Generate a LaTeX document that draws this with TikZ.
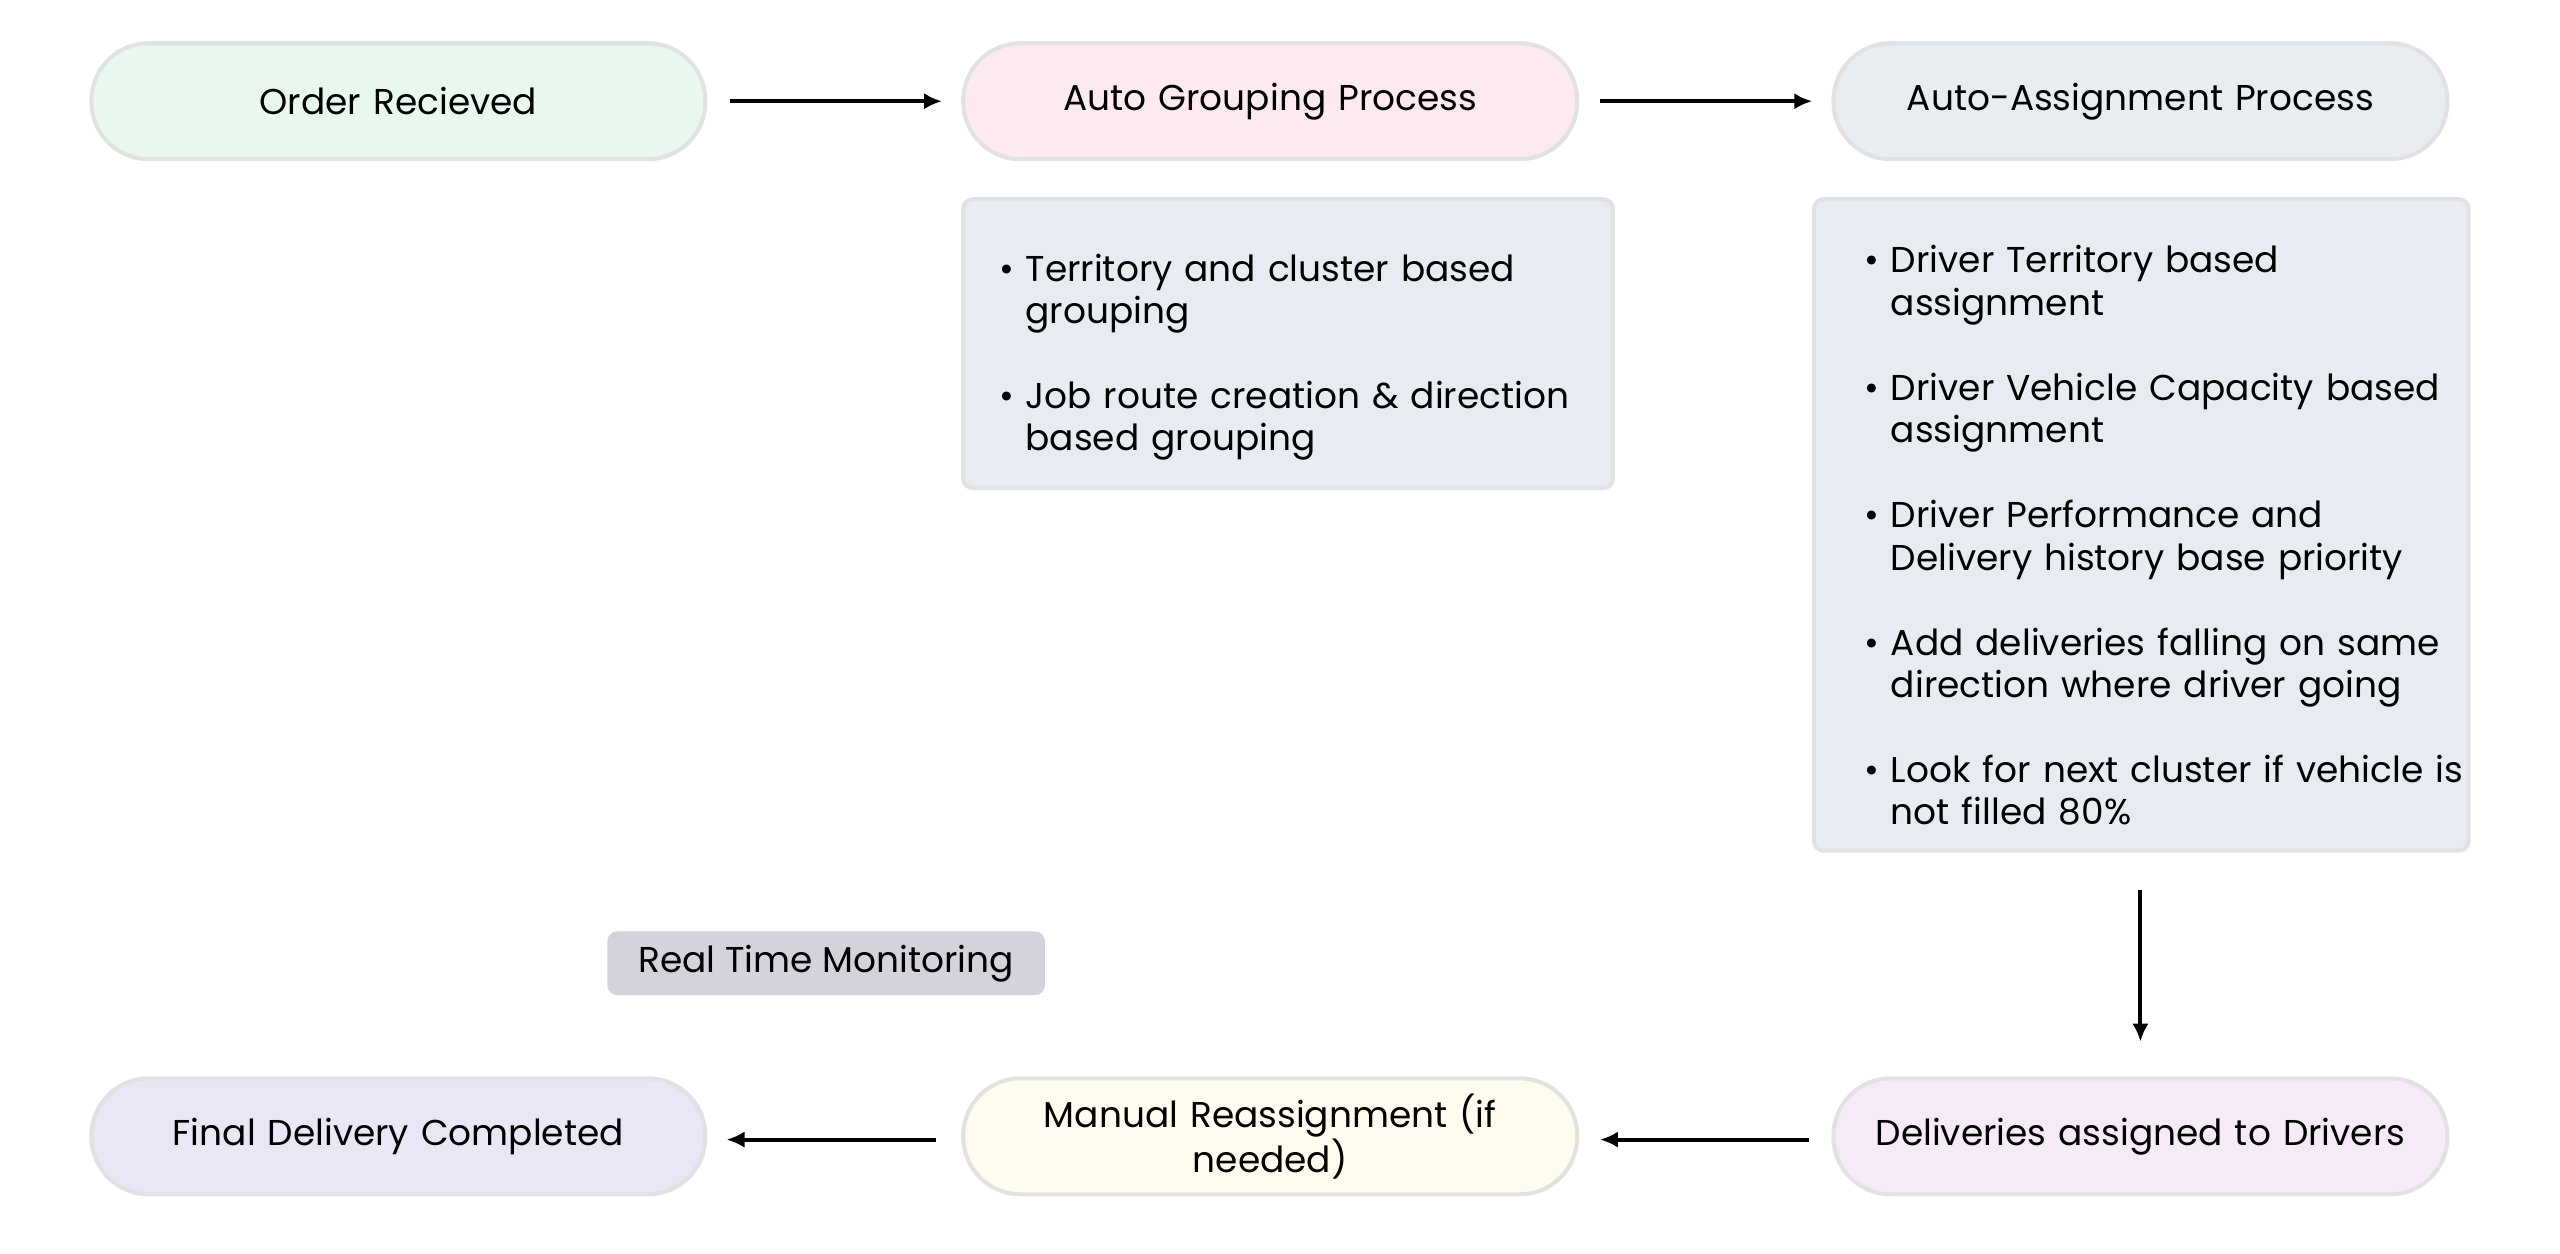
\documentclass[tikz,border=0pt]{standalone}
\usepackage{fontspec}
\setmainfont{Poppins}
\usetikzlibrary{arrows.meta}
\definecolor{bd}{HTML}{E2E2E2}
\definecolor{cA}{HTML}{E8F8EF}
\definecolor{cB}{HTML}{FCEAF0}
\definecolor{cC}{HTML}{E8EDF2}
\definecolor{cL}{HTML}{E6ECF2}
\definecolor{cM}{HTML}{D3D3DB}
\definecolor{cF}{HTML}{E9E6F6}
\definecolor{cR}{HTML}{FFFBEE}
\definecolor{cD}{HTML}{F6E9F8}
\newcommand{\blist}[1]{\begin{list}{\textbullet}{\leftmargin=17pt\labelwidth=10pt\labelsep=7pt\itemsep=26pt\parsep=0pt\topsep=0pt\partopsep=0pt}#1\end{list}}
\begin{document}
\begin{tikzpicture}[x=1pt,y=-1pt,
  pill/.style={draw=bd,line width=2.5pt,rounded corners=35pt,minimum width=376pt,minimum height=71pt,align=center,font=\fontsize{22}{26}\selectfont,text width=330pt},
  lbox/.style={draw=bd,line width=2.5pt,rounded corners=6pt,fill=cL},
  lst/.style={anchor=north west,inner sep=0pt,font=\fontsize{22}{26}\selectfont,text width=380pt},
  arr/.style={-{Latex[length=11pt,width=10pt]},line width=2.5pt}]
\useasboundingbox (0,0) rectangle (1568,768);
\node[pill,fill=cA] (o) at (244,62) {Order Recieved};
\node[pill,fill=cB] (g) at (778,62) {Auto Grouping Process};
\node[pill,fill=cC] (a) at (1311,62) {Auto-Assignment Process};
\node[pill,fill=cF] (f) at (244,696) {Final Delivery Completed};
\node[pill,fill=cR] (m) at (778,696) {Manual Reassignment (if\\needed)};
\node[pill,fill=cD] (d) at (1311,696) {Deliveries assigned to Drivers};
\draw[lbox] (590,122) rectangle (988,299);
\draw[lbox] (1111,122) rectangle (1512,521);
\node[lst] (gl) at (611,146) {\blist{\item Territory and cluster based\\grouping \item Job route creation \& direction\\based grouping}};
\node[lst] (al) at (1141,141) {\blist{\item Driver Territory based\\assignment \item Driver Vehicle Capacity based\\assignment \item Driver Performance and\\Delivery history base priority \item Add deliveries falling on same\\direction where driver going \item Look for next cluster if vehicle is\\not filled 80\%}};
\node[fill=cM,rounded corners=6pt,minimum width=268pt,minimum height=39pt,font=\fontsize{22}{26}\selectfont] (rt) at (506,590) {Real Time Monitoring};
\coordinate (a1) at (447,62); \coordinate (a2) at (577,62);
\coordinate (b1) at (980,62); \coordinate (b2) at (1110,62);
\coordinate (c1) at (1311,545); \coordinate (c2) at (1311,638);
\coordinate (d1) at (1108,698); \coordinate (d2) at (980,698);
\coordinate (e1) at (573,698); \coordinate (e2) at (445,698);
\draw[arr] (a1) -- (a2);
\draw[arr] (b1) -- (b2);
\draw[arr] (c1) -- (c2);
\draw[arr] (d1) -- (d2);
\draw[arr] (e1) -- (e2);
\end{tikzpicture}
\end{document}
